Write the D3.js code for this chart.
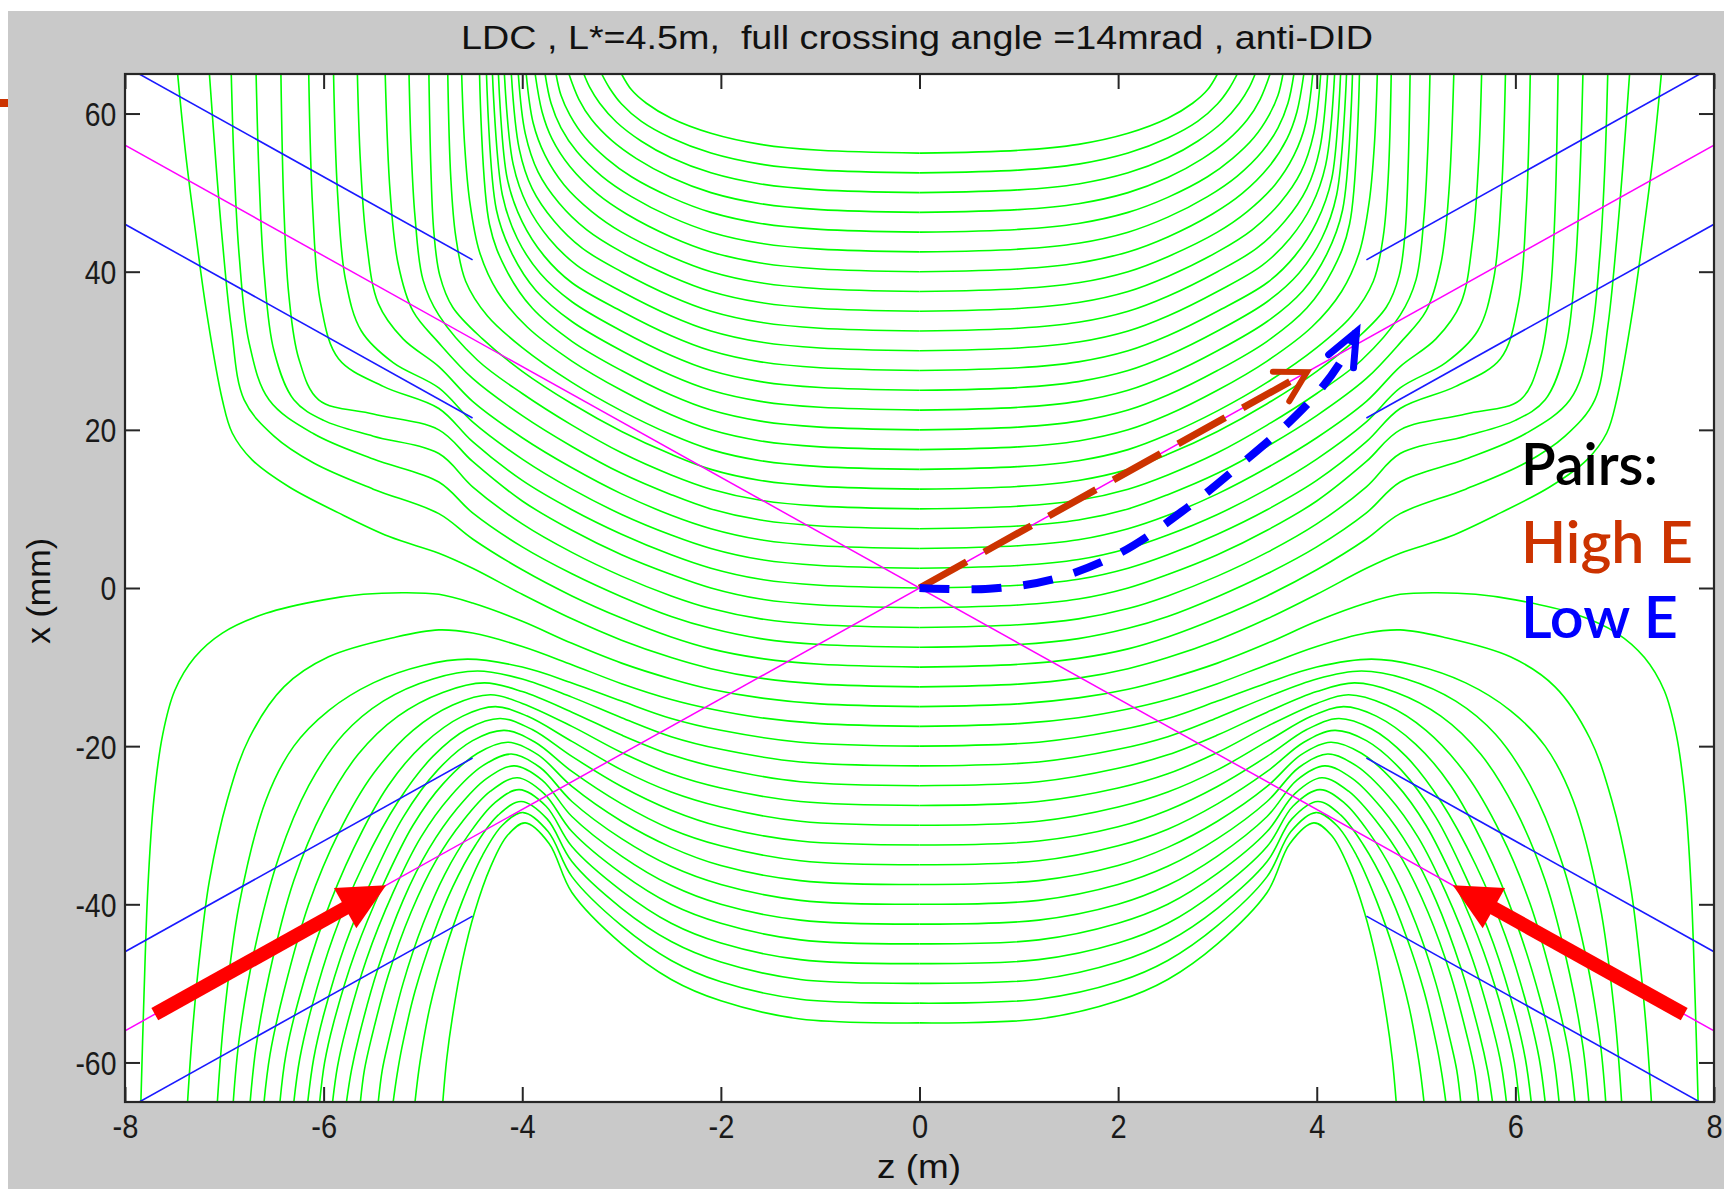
<!DOCTYPE html>
<html>
<head>
<meta charset="utf-8">
<script src="https://cdn.jsdelivr.net/npm/d3@7"></script>
<style>
  html, body { margin: 0; padding: 0; background: #fff; }
  svg { display: block; }
</style>
</head>
<body>
<div id="chart"></div>
<script>
// ---- data (z in m, x in mm) ----
var zTicks = [-8, -6, -4, -2, 0, 2, 4, 6, 8];
var xTicks = [-60, -40, -20, 0, 20, 40, 60];
var titleText = "LDC , L*=4.5m,  full crossing angle =14mrad , anti-DID";

// field lines, right half only (z >= 0); the plot is mirror symmetric in z.
// lines that leave through the top near |z| = 3 - 4.5
var uLines = [
  [[0,55],[1,55.35],[1.6,56.1],[2.1,57.5],[2.5,59.4],[2.75,61.3],[2.9,63],[3.0,65]],
  [[0,52.5],[1,52.85],[1.6,53.6],[2.1,55],[2.5,56.9],[2.8,59],[3.0,61.2],[3.12,63.2],[3.2,65]],
  [[0,50],[1,50.35],[1.6,51.1],[2.1,52.5],[2.5,54.4],[2.8,56.5],[3.05,58.9],[3.22,61.3],[3.32,63.3],[3.38,65]],
  [[0,47.5],[1,47.85],[1.6,48.6],[2.1,50],[2.5,51.9],[2.85,54.3],[3.1,56.6],[3.3,59.2],[3.43,61.8],[3.53,65]],
  [[0,45],[1,45.35],[1.6,46.1],[2.1,47.5],[2.5,49.4],[2.9,52],[3.15,54.3],[3.37,57],[3.52,59.8],[3.61,62.3],[3.66,65]],
  [[0,42.5],[1,42.85],[1.6,43.6],[2.1,45],[2.5,46.9],[2.9,49.5],[3.2,52.1],[3.45,55.2],[3.61,58.2],[3.71,61.3],[3.77,65]],
  [[0,40],[1,40.35],[1.6,41.1],[2.1,42.5],[2.5,44.4],[2.95,47.3],[3.25,49.9],[3.52,53.3],[3.7,56.8],[3.8,60.2],[3.87,65]],
  [[0,37.5],[1,37.85],[1.6,38.6],[2.1,40],[2.5,41.9],[3.0,45],[3.3,47.6],[3.58,51],[3.77,54.7],[3.89,58.8],[3.96,65]],
  [[0,35],[1,35.35],[1.6,36.1],[2.1,37.5],[2.5,39.4],[3.0,42.5],[3.35,45.3],[3.63,48.7],[3.84,52.6],[3.97,57.5],[4.04,65]],
  [[0,32.5],[1,32.85],[1.6,33.6],[2.1,35],[2.5,36.9],[3.0,40],[3.4,43],[3.68,46.4],[3.9,50.5],[4.03,55.5],[4.11,65]],
  [[0,30],[1,30.35],[1.6,31.1],[2.1,32.5],[2.5,34.4],[3.0,37.5],[3.45,40.8],[3.73,44.2],[3.95,48.4],[4.09,53.5],[4.18,65]],
  [[0,27.5],[1,27.85],[1.6,28.6],[2.1,30],[2.5,31.9],[3,35],[3.5,38.6],[3.78,42],[4.0,46.3],[4.15,51.7],[4.24,65]],
  [[0,25],[1,25.35],[1.6,26.1],[2.1,27.5],[2.5,29.4],[3,32.5],[3.5,36.2],[3.82,39.8],[4.05,44.2],[4.2,49.7],[4.30,65]],
  [[0,22.5],[1,22.85],[1.6,23.6],[2.1,25],[2.5,26.9],[3,30],[3.5,33.7],[3.86,37.6],[4.1,42.2],[4.26,47.8],[4.36,65]],
  [[0,20],[1,20.35],[1.6,21.1],[2.1,22.5],[2.5,24.4],[3,27.5],[3.5,31.2],[3.9,35.4],[4.16,40.2],[4.33,46],[4.43,65]]
];

// lines that squeeze past |z| = 4.5 and leave through the top further out
var outerTopLines = [
  [[0,17.5],[1,17.85],[1.6,18.6],[2.1,20],[2.5,21.9],[3,25],[3.5,28.7],[3.95,33],[4.25,37.5],[4.43,42.5],[4.53,49],[4.58,56],[4.61,65]],
  [[0,15],[1,15.35],[1.6,16.1],[2.1,17.5],[2.5,19.4],[3,22.4],[3.5,26],[4,30.4],[4.35,34.4],[4.57,38.8],[4.67,44.5],[4.72,52],[4.75,65]],
  [[0,12.5],[1,12.85],[1.6,13.6],[2.1,15],[2.5,16.9],[3,19.8],[3.5,23.3],[4,27.4],[4.4,31.5],[4.7,35.5],[4.83,39.5],[4.89,45],[4.92,53],[4.94,65]],
  [[0,10],[1,10.35],[1.6,11.1],[2.1,12.5],[2.5,14.3],[3,17.1],[3.5,20.6],[4,24.6],[4.45,28.8],[4.84,34.5],[5.0,39],[5.08,47],[5.12,56],[5.14,65]],
  [[0,7.5],[1,7.85],[1.6,8.6],[2.1,10],[2.5,11.8],[3,14.5],[3.5,17.9],[4,21.8],[4.5,26.5],[4.84,31],[5.1,35],[5.25,41],[5.33,50],[5.38,65]],
  [[0,5],[1,5.35],[1.6,6.1],[2.1,7.5],[2.5,9.2],[3,11.9],[3.5,15.2],[4,19],[4.5,23.6],[4.84,28],[5.2,31.5],[5.45,36],[5.57,44],[5.63,54],[5.66,65]],
  [[0,2.5],[1,2.85],[1.6,3.6],[2.1,5],[2.5,6.7],[3,9.3],[3.5,12.5],[4,16.3],[4.5,21],[4.84,25.3],[5.3,28.5],[5.62,32.5],[5.78,39],[5.86,50],[5.9,65]],
  [[0,0],[1,0.35],[1.6,1.1],[2.1,2.5],[2.5,4.2],[3,6.8],[3.5,9.9],[4,13.6],[4.5,18.5],[4.84,22.7],[5.4,25.5],[5.85,29],[6.03,36],[6.11,48],[6.15,65]],
  [[0,-2.5],[1,-2.15],[1.6,-1.4],[2.1,0],[2.5,1.7],[3,4.2],[3.5,7.3],[4,11],[4.5,16],[4.84,20],[5.5,22],[6.05,23.8],[6.25,29],[6.35,37],[6.4,48],[6.43,65]],
  [[0,-5],[1,-4.65],[1.6,-3.9],[2.1,-2.6],[2.5,-1],[3,1.5],[3.5,4.5],[4,8.1],[4.5,12.8],[4.84,17],[5.5,19.2],[6.0,21.2],[6.3,23.8],[6.5,30],[6.6,40],[6.65,52],[6.68,65]],
  [[0,-7.5],[1,-7.15],[1.6,-6.4],[2.1,-5.1],[2.5,-3.6],[3,-1.1],[3.5,1.8],[4,5.2],[4.5,9.5],[4.84,13.4],[5.5,16.3],[6.1,19.5],[6.55,23.8],[6.75,31],[6.85,42],[6.9,53],[6.93,65]],
  [[0,-10],[1,-9.65],[1.6,-8.9],[2.1,-7.7],[2.5,-6.2],[3,-3.8],[3.5,-1],[4,2.3],[4.5,6.2],[4.84,9.4],[5.5,12.5],[6.1,15.8],[6.5,19.2],[6.8,23.8],[6.93,33],[7.02,44],[7.08,53],[7.15,65]],
  [[0,-12.5],[1,-12.15],[1.6,-11.4],[2.1,-10.2],[2.5,-8.8],[3,-6.6],[3.5,-3.9],[4,-0.8],[4.5,2.5],[4.84,4.4],[5.34,6.5],[5.85,9.5],[6.35,12.8],[6.72,16.2],[6.92,19.6],[7.02,23.8],[7.18,35],[7.3,46],[7.39,55],[7.47,65]]
];

// lines just below the saddle, leaving through the bottom at the far ends
var separatrixLines = [
  [[0,-15],[1,-14.65],[1.6,-13.9],[2.1,-12.8],[2.5,-11.5],[3,-9.5],[3.5,-7],[4,-4.2],[4.5,-1.9],[4.84,-0.8],[5.2,-0.6],[5.6,-0.8],[6,-1.5],[6.58,-3.2],[7.02,-5.7],[7.3,-8.8],[7.5,-13],[7.62,-18.5],[7.71,-26.8],[7.77,-38],[7.81,-52],[7.84,-65]],
  [[0,-17.5],[1,-17.15],[1.6,-16.4],[2.1,-15.3],[2.5,-14.1],[3,-12.1],[3.5,-9.7],[4,-7.4],[4.5,-5.7],[4.84,-5.3],[5.27,-6.2],[5.95,-8.7],[6.4,-12.5],[6.75,-19],[6.97,-26.8],[7.15,-37],[7.24,-45.6],[7.32,-56],[7.37,-65]]
];

// humped lines in the lower half
var humpLines = [
  [[0,-20],[1.2,-19.5],[2,-18],[2.5,-16.5],[3,-14.3],[3.5,-12],[4,-10],[4.55,-9],[5,-9.8],[5.5,-12],[5.95,-15.5],[6.3,-20],[6.58,-26.8],[6.85,-40],[7,-54],[7.07,-65]],
  [[0,-22.5],[1.2,-22],[2,-20.4],[2.5,-18.8],[3,-16.4],[3.5,-13.8],[4,-11.5],[4.45,-10.5],[4.9,-11.5],[5.4,-14.3],[5.8,-18.5],[6.15,-25],[6.45,-34],[6.7,-46],[6.85,-57],[6.91,-65]],
  [[0,-25],[1.2,-24.5],[2,-22.8],[2.5,-21.1],[3,-18.6],[3.5,-15.7],[4,-13.1],[4.38,-12],[4.8,-13.2],[5.25,-16.2],[5.65,-21],[6.0,-28],[6.3,-37],[6.55,-49],[6.68,-58],[6.74,-65]],
  [[0,-27.5],[1.2,-27],[2,-25.3],[2.5,-23.5],[3,-20.8],[3.5,-17.5],[4,-14.6],[4.32,-13.5],[4.7,-14.8],[5.1,-18],[5.5,-23.5],[5.85,-31],[6.15,-40],[6.4,-51],[6.54,-59],[6.6,-65]],
  [[0,-30],[1.2,-29.5],[2,-27.7],[2.5,-25.8],[3,-23],[3.5,-19.4],[3.95,-16.2],[4.27,-15],[4.6,-16.2],[5.0,-19.8],[5.35,-25],[5.7,-33],[6.0,-42],[6.25,-52],[6.38,-59],[6.44,-65]],
  [[0,-32.5],[1.2,-32],[2,-30.2],[2.5,-28.1],[3,-25.1],[3.5,-21.3],[3.9,-17.9],[4.22,-16.5],[4.55,-17.8],[4.9,-21.3],[5.25,-27],[5.6,-35],[5.9,-44],[6.12,-53],[6.24,-59.5],[6.30,-65]],
  [[0,-35],[1.2,-34.5],[2,-32.6],[2.5,-30.5],[3,-27.3],[3.5,-23.2],[3.87,-19.5],[4.18,-18],[4.5,-19.3],[4.85,-23],[5.2,-29],[5.5,-36.5],[5.78,-45],[6.0,-54],[6.1,-59.5],[6.16,-65]],
  [[0,-37.5],[1.2,-37],[2,-35.1],[2.5,-32.8],[3,-29.5],[3.5,-25.1],[3.84,-21.1],[4.14,-19.5],[4.45,-20.9],[4.8,-24.8],[5.1,-30],[5.4,-37.5],[5.68,-46],[5.9,-55],[5.99,-60],[6.04,-65]],
  [[0,-40],[1.2,-39.5],[2,-37.5],[2.5,-35.2],[3,-31.7],[3.5,-27],[3.82,-22.7],[4.11,-21],[4.4,-22.5],[4.72,-26.3],[5.02,-31.5],[5.3,-38.5],[5.57,-47],[5.78,-56],[5.86,-60.5],[5.91,-65]],
  [[0,-42.5],[1.2,-42],[2,-40],[2.5,-37.6],[3,-33.9],[3.5,-28.9],[3.8,-24.3],[4.08,-22.5],[4.36,-24.1],[4.65,-27.8],[4.94,-33],[5.2,-39.5],[5.45,-48],[5.64,-56.5],[5.72,-61],[5.77,-65]],
  [[0,-45],[1.2,-44.5],[2,-42.4],[2.5,-40],[3,-36.1],[3.5,-30.8],[3.78,-26],[4.05,-24],[4.32,-25.7],[4.6,-29.5],[4.87,-34.5],[5.12,-41],[5.35,-49],[5.52,-57],[5.59,-61],[5.63,-65]],
  [[0,-47.5],[1.2,-47],[2,-44.9],[2.5,-42.4],[3,-38.3],[3.5,-32.7],[3.76,-27.6],[4.03,-25.5],[4.28,-27.2],[4.53,-31],[4.78,-36.2],[5.0,-42.5],[5.2,-50],[5.35,-57.5],[5.41,-61],[5.45,-65]],
  [[0,-50],[1.2,-49.5],[2,-47.3],[2.5,-44.7],[3,-40.5],[3.5,-34.6],[3.75,-29.2],[4.01,-27],[4.24,-28.7],[4.47,-32.5],[4.7,-37.8],[4.9,-44],[5.08,-51],[5.21,-58],[5.26,-61.5],[5.30,-65]],
  [[0,-52.5],[1.2,-52],[2,-49.8],[2.5,-47.1],[3,-42.7],[3.5,-36.5],[3.74,-30.8],[3.99,-28.4],[4.2,-30],[4.4,-33.8],[4.6,-39.5],[4.78,-46],[4.93,-53],[5.03,-60],[5.08,-65]],
  [[0,-55],[1.2,-54.5],[2,-52.2],[2.5,-49.5],[3,-45],[3.5,-38.5],[3.73,-32.3],[3.97,-29.7],[4.15,-31.3],[4.32,-35.3],[4.48,-41],[4.6,-47],[4.7,-54],[4.76,-59.5],[4.80,-65]]
];

// beam lines (magenta) and aperture lines (blue)
var beamLines = [ [[-8,-56],[8,56]], [[-8,56],[8,-56]] ];
var apertureLines = [
  [[-8,66],[-4.5,41.5]], [[-8,46],[-4.5,21.5]],
  [[-8,-46],[-4.5,-21.5]], [[-8,-66],[-4.5,-41.5]],
  [[4.5,41.5],[8,66]], [[4.5,21.5],[8,46]],
  [[4.5,-21.5],[8,-46]], [[4.5,-41.5],[8,-66]]
];

// incoming beams (red arrows): tail, tip
var beamArrows = [ [[-7.7,-53.9],[-5.37,-37.6]], [[7.7,-53.9],[5.37,-37.6]] ];
// pair trajectories
var highE = [[0,0],[3.9,27.3]];
var lowE = [[0,0],[0.7,-0.1],[1.37,1.2],[2.03,4.5],[2.7,10.2],[3.25,15.8],[3.7,20.7],[4.03,25],[4.25,28.8],[4.4,32.4]];

// ---- layout ----
var W = 1724, H = 1189;
var plot = {left: 125, right: 1714, top: 74, bottom: 1102};

var svg = d3.select("#chart").append("svg").attr("width", W).attr("height", H);
svg.append("rect").attr("width", W).attr("height", H).attr("fill", "#ffffff");
svg.append("rect").attr("x", 8).attr("y", 11).attr("width", W - 8).attr("height", H - 11).attr("fill", "#c9c9c9");
svg.append("rect").attr("x", 0).attr("y", 99).attr("width", 8).attr("height", 8).attr("fill", "#cc3300");

var zScale = d3.scaleLinear().domain([-8, 8]).range([plot.left, plot.right]);
var xScale = d3.scaleLinear().domain([-65, 65]).range([plot.bottom, plot.top]);

svg.append("defs").append("clipPath").attr("id", "clip")
  .append("rect").attr("x", plot.left).attr("y", plot.top)
  .attr("width", plot.right - plot.left).attr("height", plot.bottom - plot.top);

svg.append("rect").attr("x", plot.left).attr("y", plot.top)
  .attr("width", plot.right - plot.left).attr("height", plot.bottom - plot.top)
  .attr("fill", "#ffffff");

var g = svg.append("g").attr("clip-path", "url(#clip)");

var smooth = d3.line()
  .x(function(d) { return zScale(d[0]); })
  .y(function(d) { return xScale(d[1]); })
  .curve(d3.curveCatmullRom.alpha(0.5));
var straight = d3.line()
  .x(function(d) { return zScale(d[0]); })
  .y(function(d) { return xScale(d[1]); });

// mirror each right-half line onto the left half
var allField = [];
[uLines, outerTopLines, separatrixLines, humpLines].forEach(function(group) {
  group.forEach(function(l) {
    allField.push(l);
    allField.push(l.map(function(p) { return [-p[0], p[1]]; }));
  });
});

g.selectAll(".field").data(allField).enter().append("path")
  .attr("class", "field")
  .attr("d", smooth)
  .attr("fill", "none")
  .attr("stroke", "#00ff00")
  .attr("stroke-width", 1.6);

g.selectAll(".aper").data(apertureLines).enter().append("path")
  .attr("d", straight)
  .attr("stroke", "#1a1aff")
  .attr("stroke-width", 1.6);

g.selectAll(".beam").data(beamLines).enter().append("path")
  .attr("d", straight)
  .attr("stroke", "#ff00ff")
  .attr("stroke-width", 1.5);

// red beam arrows
beamArrows.forEach(function(a) {
  var x0 = zScale(a[0][0]), y0 = xScale(a[0][1]);
  var x1 = zScale(a[1][0]), y1 = xScale(a[1][1]);
  var ang = Math.atan2(y1 - y0, x1 - x0);
  var headLen = 47, headHalf = 23;
  var bx = x1 - headLen * Math.cos(ang), by = y1 - headLen * Math.sin(ang);
  g.append("line")
    .attr("x1", x0).attr("y1", y0)
    .attr("x2", bx + 4 * Math.cos(ang)).attr("y2", by + 4 * Math.sin(ang))
    .attr("stroke", "#ff0000").attr("stroke-width", 14);
  var nx = -Math.sin(ang), ny = Math.cos(ang);
  g.append("path")
    .attr("d", "M" + x1 + "," + y1 +
      "L" + (bx + headHalf * nx) + "," + (by + headHalf * ny) +
      "L" + (bx - headHalf * nx) + "," + (by - headHalf * ny) + "Z")
    .attr("fill", "#ff0000");
});

function chevron(tip, ang, len, half) {
  var a1 = ang + Math.PI - half, a2 = ang + Math.PI + half;
  return "M" + (tip[0] + len * Math.cos(a1)) + "," + (tip[1] + len * Math.sin(a1)) +
    "L" + tip[0] + "," + tip[1] +
    "L" + (tip[0] + len * Math.cos(a2)) + "," + (tip[1] + len * Math.sin(a2));
}

// high energy pairs: straight dashed
g.append("path").attr("d", straight(highE))
  .attr("fill", "none").attr("stroke", "#cc3300").attr("stroke-width", 7)
  .attr("stroke-dasharray", "54,20");
(function() {
  var p0 = [zScale(highE[0][0]), xScale(highE[0][1])];
  var p1 = [zScale(highE[1][0]), xScale(highE[1][1])];
  var ang = Math.atan2(p1[1] - p0[1], p1[0] - p0[0]);
  g.append("path").attr("d", chevron(p1, ang, 34, 0.52))
    .attr("fill", "none").attr("stroke", "#cc3300").attr("stroke-width", 6)
    .attr("stroke-linecap", "round").attr("stroke-linejoin", "miter");
})();

// low energy pairs: curved dashed
g.append("path").attr("d", smooth(lowE))
  .attr("fill", "none").attr("stroke", "#0000ff").attr("stroke-width", 8)
  .attr("stroke-dasharray", "30,22");
(function() {
  var n = lowE.length;
  var p0 = [zScale(lowE[n - 2][0]), xScale(lowE[n - 2][1])];
  var p1 = [zScale(lowE[n - 1][0]), xScale(lowE[n - 1][1])];
  var ang = Math.atan2(p1[1] - p0[1], p1[0] - p0[0]);
  g.append("path").attr("d", chevron(p1, ang, 36, 0.4))
    .attr("fill", "none").attr("stroke", "#0000ff").attr("stroke-width", 7)
    .attr("stroke-linecap", "round");
})();

// ---- axes ----
var axisFont = "'Liberation Sans', Arial, sans-serif";
var plain = function(d) { return String(d); };
function styleAxis(sel, showLabels) {
  sel.select(".domain").remove();
  sel.selectAll(".tick line").attr("stroke", "#262626").attr("stroke-width", 2);
  sel.selectAll(".tick text")
    .style("font-family", axisFont).style("font-size", "33px").attr("fill", "#1a1a1a")
    .style("display", showLabels ? null : "none");
}

var bottomAxis = svg.append("g").attr("transform", "translate(0," + plot.bottom + ")")
  .call(d3.axisBottom(zScale).tickValues(zTicks).tickFormat(plain).tickSizeInner(-15).tickSizeOuter(0).tickPadding(13));
styleAxis(bottomAxis, true);
bottomAxis.selectAll(".tick text").attr("transform", "scale(0.88,1)");

var topAxis = svg.append("g").attr("transform", "translate(0," + plot.top + ")")
  .call(d3.axisTop(zScale).tickValues(zTicks).tickSizeInner(-15).tickSizeOuter(0));
styleAxis(topAxis, false);

var leftAxis = svg.append("g").attr("transform", "translate(" + plot.left + ",0)")
  .call(d3.axisLeft(xScale).tickValues(xTicks).tickFormat(plain).tickSizeInner(-15).tickSizeOuter(0).tickPadding(10));
styleAxis(leftAxis, true);
leftAxis.selectAll(".tick text").attr("transform", "scale(0.86,1)").attr("dy", "0.36em");

var rightAxis = svg.append("g").attr("transform", "translate(" + plot.right + ",0)")
  .call(d3.axisRight(xScale).tickValues(xTicks).tickSizeInner(-15).tickSizeOuter(0));
styleAxis(rightAxis, false);

svg.append("rect").attr("x", plot.left).attr("y", plot.top)
  .attr("width", plot.right - plot.left).attr("height", plot.bottom - plot.top)
  .attr("fill", "none").attr("stroke", "#262626").attr("stroke-width", 2.2);

// ---- texts ----
svg.append("text").attr("x", 917).attr("y", 49).attr("text-anchor", "middle")
  .style("font-family", axisFont).style("font-size", "34px").style("white-space", "pre")
  .attr("fill", "#111")
  .attr("textLength", 912).attr("lengthAdjust", "spacingAndGlyphs")
  .text(titleText);

svg.append("text").attr("x", 919).attr("y", 1178).attr("text-anchor", "middle")
  .style("font-family", axisFont).style("font-size", "33px").attr("fill", "#111")
  .attr("textLength", 84).attr("lengthAdjust", "spacingAndGlyphs")
  .text("z (m)");

svg.append("text").attr("transform", "translate(50,591) rotate(-90)").attr("text-anchor", "middle")
  .style("font-family", axisFont).style("font-size", "33px").attr("fill", "#111")
  .attr("textLength", 106).attr("lengthAdjust", "spacingAndGlyphs")
  .text("x (mm)");

var legendFont = "Lato, 'Open Sans', sans-serif";
var legendItems = [
  {text: "Pairs:", color: "#000000", y: 485, w: 137},
  {text: "High E", color: "#cc3300", y: 563, w: 172},
  {text: "Low E", color: "#0000ff", y: 638, w: 157}
];
svg.selectAll(".legend").data(legendItems).enter().append("text")
  .attr("x", 1521).attr("y", function(d) { return d.y; })
  .style("font-family", legendFont).style("font-size", "58px").style("font-weight", "600")
  .attr("fill", function(d) { return d.color; })
  .attr("textLength", function(d) { return d.w; }).attr("lengthAdjust", "spacingAndGlyphs")
  .text(function(d) { return d.text; });
</script>
</body>
</html>
